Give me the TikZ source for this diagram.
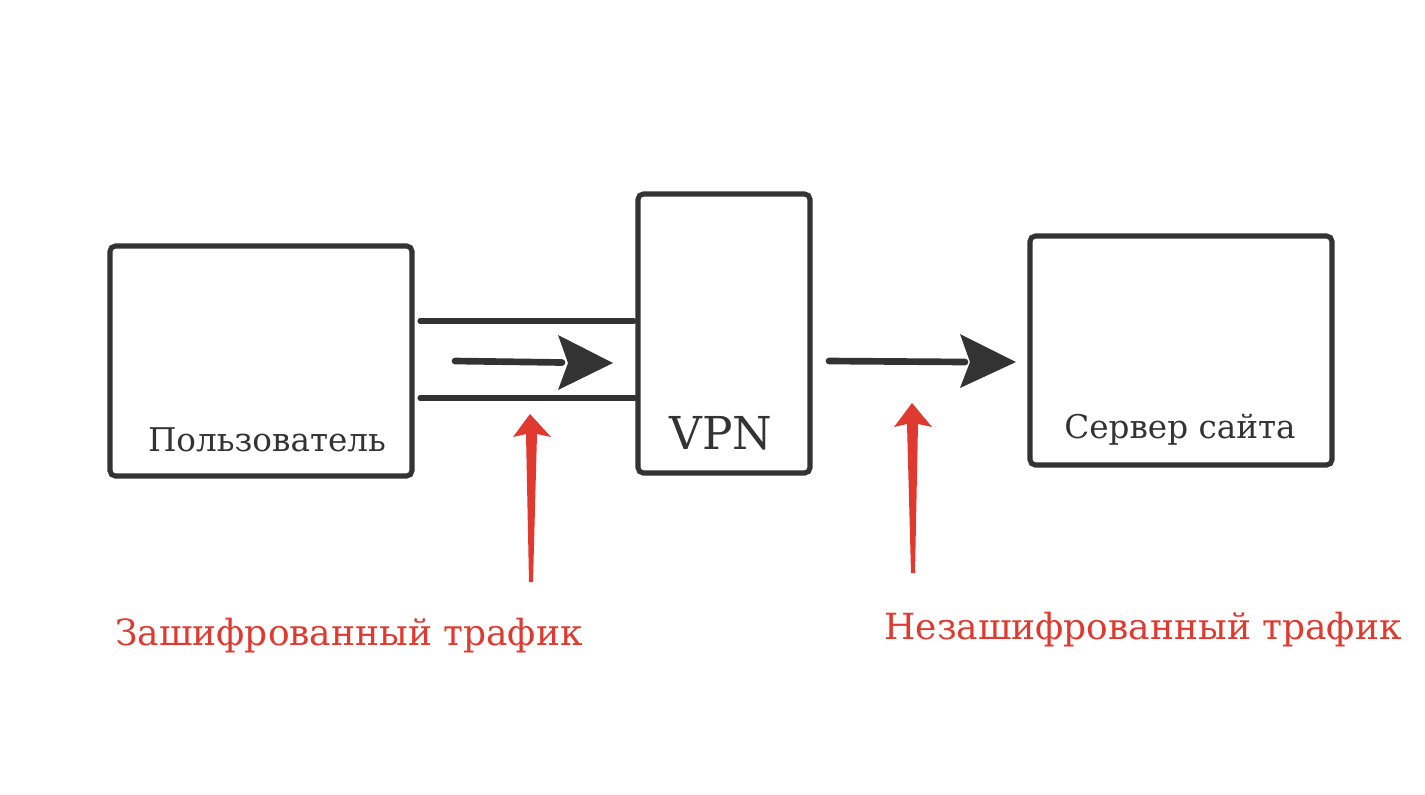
\documentclass[tikz,border=0pt]{standalone}
\usepackage{fontspec}
\setmainfont{DejaVu Serif}
\definecolor{dk}{HTML}{333333}
\definecolor{rd}{HTML}{E0392F}
\begin{document}
\begin{tikzpicture}[x=0.75pt,y=-0.75pt,
  box/.style={draw=dk,line width=3.8pt,rounded corners=4pt,inner sep=0pt},
  lbl/.style={text=dk,font=\fontsize{24.5}{28}\selectfont},
  rlbl/.style={text=rd,font=\fontsize{27}{30}\selectfont},
  flow/.style={draw=dk,line width=5pt,line cap=round},
  wire/.style={draw=dk,line width=3.8pt,line cap=round}]
\useasboundingbox (0,0) rectangle (1425,794);
% boxes
\node[box,minimum width=302*0.75pt,minimum height=230*0.75pt] (user) at (261,361) {};
\node[box,minimum width=172*0.75pt,minimum height=279*0.75pt] (vpn) at (724,333.5) {};
\node[box,minimum width=302*0.75pt,minimum height=229*0.75pt] (srv) at (1181,350.5) {};
% labels
\node[lbl] (tuser) at (267,440) {Пользователь};
\node[text=dk,font=\fontsize{34}{36}\selectfont] (tvpn) at (721,433) {VPN};
\node[lbl] (tsrv) at (1180,430) {Сервер сайта};
\node[rlbl] (tenc) at (349,636) {Зашифрованный трафик};
\node[rlbl] (tdec) at (1143,630) {Незашифрованный трафик};
% tunnel lines
\coordinate (t1a) at (420,321); \coordinate (t1b) at (634,321);
\coordinate (t2a) at (420,398); \coordinate (t2b) at (636,398);
\draw[wire] (t1a) -- (t1b);
\draw[wire] (t2a) -- (t2b);
% dark arrows
\coordinate (a1s) at (455,361); \coordinate (a1e) at (613,363);
\coordinate (a2s) at (829,361); \coordinate (a2e) at (1016,362);
\draw[flow] (a1s) -- (562,362.5);
\fill[dk] (a1e) -- (558,390) -- (568,363) -- (558,335) -- cycle;
\draw[flow] (a2s) -- (965,362);
\fill[dk] (a2e) -- (960,388) -- (970,362) -- (960,334) -- cycle;
% red arrows
\fill[rd] (530,414) -- (551,437) -- (537,434) -- (533,582) -- (529,582) -- (526,434) -- (513,437) -- cycle;
\fill[rd] (912,403) -- (932,427) -- (918,424) -- (915,573) -- (911,573) -- (907,424) -- (894,427) -- cycle;
\end{tikzpicture}
\end{document}
